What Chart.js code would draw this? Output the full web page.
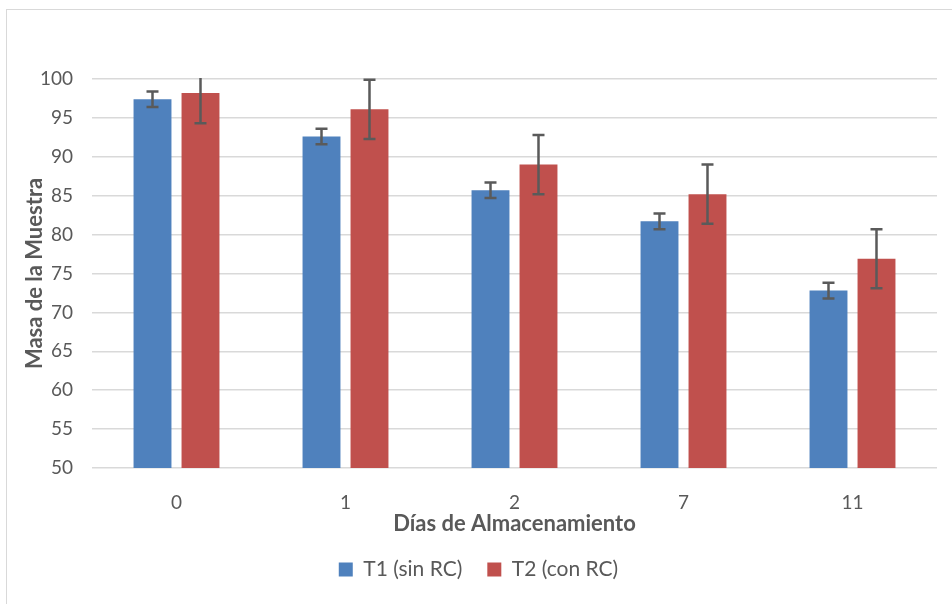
<!DOCTYPE html>
<html>
<head>
<meta charset="utf-8">
<script src="https://cdn.jsdelivr.net/npm/chart.js@4.4.0/dist/chart.umd.min.js"></script>
<style>
  body{margin:0;background:#fff;}
  #wrap{position:absolute;left:0;top:0;width:952px;height:604px;}
  #frame{position:absolute;left:6px;top:9px;width:960px;height:620px;border:1px solid #d9d9d9;}
  canvas{position:absolute;left:0;top:0;}
</style>
</head>
<body>
<div id="wrap">
  <div id="frame"></div>
  <canvas id="chart" width="952" height="604"></canvas>
</div>
<script>
const dias=["0","1","2","7","11"];
const t1=[97.4,92.6,85.7,81.7,72.8];
const t2=[98.2,96.1,89.0,85.2,76.9];
const t1Err=[1.0,1.0,1.0,1.0,1.0];
const t2Err=[3.9,3.8,3.8,3.8,3.8];

const fontName="Lato, 'Open Sans', sans-serif";
const gris="#595959";

// barras de error dibujadas con las escalas del grafico
const errorBars={
  id:"errorBars",
  afterDatasetsDraw(chart){
    const ctx=chart.ctx, y=chart.scales.y, area=chart.chartArea;
    ctx.save();
    ctx.beginPath();
    ctx.rect(area.left,area.top-1,area.right-area.left,area.bottom-area.top+2);
    ctx.clip();
    ctx.strokeStyle="#5a5a5a";
    ctx.lineWidth=2.5;
    chart.data.datasets.forEach((ds,i)=>{
      const meta=chart.getDatasetMeta(i);
      meta.data.forEach((bar,j)=>{
        const v=ds.data[j], e=ds.errors[j];
        const top=y.getPixelForValue(v+e), bot=y.getPixelForValue(v-e);
        ctx.beginPath();
        ctx.moveTo(bar.x,top);ctx.lineTo(bar.x,bot);
        ctx.moveTo(bar.x-6,top);ctx.lineTo(bar.x+6,top);
        ctx.moveTo(bar.x-6,bot);ctx.lineTo(bar.x+6,bot);
        ctx.stroke();
      });
    });
    ctx.restore();
  }
};

new Chart(document.getElementById("chart"),{
  type:"bar",
  data:{
    labels:dias,
    datasets:[
      {label:"T1 (sin RC)",data:t1,errors:t1Err,backgroundColor:"#4f81bd",
       barPercentage:0.79,categoryPercentage:0.568},
      {label:"T2 (con RC)",data:t2,errors:t2Err,backgroundColor:"#c0504d",
       barPercentage:0.79,categoryPercentage:0.568}
    ]
  },
  options:{
    responsive:false,
    animation:false,
    layout:{padding:{left:20,right:15,top:79,bottom:14}},
    plugins:{
      tooltip:{enabled:false},
      legend:{
        position:"bottom",
        labels:{boxWidth:14,boxHeight:14,padding:25,color:gris,
          font:{family:fontName,size:21}}
      }
    },
    scales:{
      x:{
        afterFit(s){s.height=66;},
        grid:{display:false},
        border:{display:false},
        ticks:{color:gris,padding:15,font:{family:fontName,size:19}},
        title:{display:true,text:"Días de Almacenamiento",color:gris,
          padding:{top:0,bottom:-3},font:{family:fontName,size:22,weight:"bold"}}
      },
      y:{
        min:50,max:100,
        afterFit(s){s.width=72;},
        grid:{color:"#d9d9d9",lineWidth:1.5,drawTicks:false},
        border:{display:false},
        ticks:{stepSize:5,color:gris,padding:19,font:{family:fontName,size:19}},
        title:{display:true,text:"Masa de la Muestra",color:gris,
          padding:{top:2,bottom:0},font:{family:fontName,size:22,weight:"bold"}}
      }
    }
  },
  plugins:[errorBars]
});
</script>
</body>
</html>
